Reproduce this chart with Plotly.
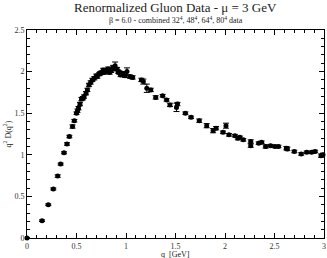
import plotly.graph_objects as go

q = [0.0, 0.152, 0.215, 0.266, 0.31, 0.34, 0.374, 0.404, 0.428, 0.46, 0.478,
     0.50, 0.51, 0.52, 0.535, 0.55, 0.565, 0.576, 0.596, 0.61, 0.626, 0.643,
     0.66, 0.68, 0.70, 0.71, 0.73, 0.74, 0.754, 0.77, 0.78, 0.80, 0.81, 0.82,
     0.835, 0.85, 0.86, 0.87, 0.89, 0.91, 0.92, 0.93, 0.946, 0.955, 0.966,
     0.99, 1.01, 1.04, 1.067, 1.155, 1.175, 1.21, 1.25, 1.30, 1.37, 1.41,
     1.444, 1.51, 1.52, 1.60, 1.657, 1.74, 1.815, 1.88, 1.91, 1.98, 2.01,
     2.04, 2.10, 2.13, 2.15, 2.185, 2.26, 2.26, 2.34, 2.37, 2.41, 2.46,
     2.505, 2.54, 2.62, 2.63, 2.70, 2.77, 2.825, 2.875, 2.91, 2.97, 2.99]

D = [0.0, 0.208, 0.40, 0.59, 0.744, 0.888, 1.024, 1.13, 1.22, 1.34, 1.41,
     1.50, 1.53, 1.56, 1.61, 1.67, 1.68, 1.70, 1.74, 1.78, 1.84, 1.87,
     1.90, 1.92, 1.95, 1.94, 1.97, 1.98, 1.99, 2.02, 1.99, 2.00, 2.02, 2.03,
     1.99, 2.01, 2.03, 2.05, 2.07, 2.03, 2.00, 1.99, 1.96, 1.97, 1.98,
     1.95, 2.00, 1.94, 1.93, 1.90, 1.88, 1.80, 1.78, 1.69, 1.71, 1.66,
     1.60, 1.57, 1.61, 1.50, 1.45, 1.41, 1.35, 1.29, 1.32, 1.27, 1.35,
     1.24, 1.23, 1.20, 1.21, 1.18, 1.16, 1.11, 1.14, 1.15, 1.10, 1.11,
     1.10, 1.10, 1.08, 1.07, 1.04, 1.01, 1.03, 1.03, 1.04, 0.99, 1.00]

err = [0.005, 0.01, 0.01, 0.012, 0.015, 0.012, 0.012, 0.015, 0.015, 0.02, 0.015,
       0.015, 0.02, 0.02, 0.02, 0.02, 0.02, 0.02, 0.02, 0.02, 0.02, 0.02,
       0.02, 0.02, 0.02, 0.02, 0.02, 0.02, 0.02, 0.02, 0.02, 0.02, 0.02, 0.025,
       0.02, 0.02, 0.02, 0.025, 0.045, 0.02, 0.02, 0.02, 0.02, 0.02, 0.02,
       0.02, 0.045, 0.02, 0.02, 0.02, 0.03, 0.05, 0.02, 0.02, 0.015, 0.015,
       0.02, 0.05, 0.02, 0.015, 0.015, 0.02, 0.025, 0.025, 0.02, 0.015, 0.03,
       0.015, 0.015, 0.02, 0.015, 0.015, 0.02, 0.02, 0.015, 0.015, 0.02, 0.015,
       0.015, 0.015, 0.02, 0.02, 0.015, 0.015, 0.015, 0.015, 0.015, 0.02, 0.02]

x_ticks = [0, 0.5, 1, 1.5, 2, 2.5, 3]
x_ticklabels = ["0", "0.5", "1", "1.5", "2", "2.5", "3"]
y_ticks = [0, 0.5, 1, 1.5, 2, 2.5]
y_ticklabels = ["0", "0.5", "1", "1.5", "2", "2.5"]

serif = "Liberation Serif, Times New Roman, serif"

fig = go.Figure()
fig.add_trace(go.Scatter(
    x=q, y=D, mode="markers",
    marker=dict(symbol="circle", size=5, color="black"),
    error_y=dict(type="data", array=err, visible=True, color="black",
                 thickness=1, width=3),
    cliponaxis=False, showlegend=False,
))

axis_common = dict(
    showgrid=False, zeroline=False, showline=True, linecolor="black",
    linewidth=1, mirror="ticks", ticks="inside", ticklen=5, tickwidth=1,
    tickcolor="black", automargin=False,
    tickfont=dict(family=serif, size=8, color="#333"),
)

fig.update_xaxes(range=[0, 3], tickvals=x_ticks, ticktext=x_ticklabels,
                 minor=dict(dtick=0.1, ticks="inside", ticklen=3,
                            tickcolor="black", tickwidth=1),
                 **axis_common)
fig.update_yaxes(range=[0, 2.5], tickvals=y_ticks, ticktext=y_ticklabels,
                 minor=dict(dtick=0.1, ticks="inside", ticklen=3,
                            tickcolor="black", tickwidth=1),
                 **axis_common)

fig.update_layout(
    template="none",
    width=327, height=258,
    margin=dict(l=27, r=3, t=30, b=20, autoexpand=False),
    paper_bgcolor="white", plot_bgcolor="white",
    font=dict(family=serif, color="black"),
    annotations=[
        dict(text="Renormalized Gluon Data - μ = 3 GeV", xref="paper",
             yref="paper", x=0.5, y=1.106, xanchor="center",
             yanchor="middle", showarrow=False,
             font=dict(family=serif, size=13, color="#222")),
        dict(text="β = 6.0 - combined 32<sup>4</sup>, 48<sup>4</sup>, "
                  "64<sup>4</sup>, 80<sup>4</sup> data",
             xref="paper", yref="paper", x=0.5, y=1.05, xanchor="center",
             yanchor="middle", showarrow=False,
             font=dict(family=serif, size=8, color="#222")),
        dict(text="q  [GeV]", xref="paper", yref="paper", x=0.5, y=-0.077,
             xanchor="center", yanchor="middle", showarrow=False,
             borderpad=0,
             font=dict(family=serif, size=8, color="#222")),
        dict(text="q<sup>2</sup> D(q<sup>2</sup>)", xref="paper",
             yref="paper", x=-0.066, y=0.5, xanchor="center",
             yanchor="middle", textangle=-90, showarrow=False,
             font=dict(family=serif, size=8, color="#222")),
    ],
)

fig.write_html(
    "out.html",
    config={"displayModeBar": False},
    post_script="document.body.style.margin='0';"
                "document.body.style.padding='0';",
)
